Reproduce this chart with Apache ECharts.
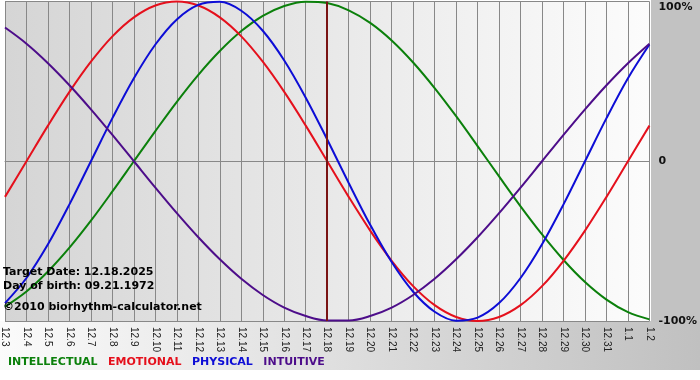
<!DOCTYPE html>
<html>
<head>
<meta charset="utf-8">
<script src="https://cdn.jsdelivr.net/npm/echarts@6/dist/echarts.min.js"></script>
<style>html,body{margin:0;padding:0;background:#fff;}#c{width:700px;height:380px;}</style>
</head>
<body>
<div id="c"></div>
<script>
var categories = ['12.3','12.4','12.5','12.6','12.7','12.8','12.9','12.10','12.11','12.12','12.13','12.14','12.15','12.16','12.17','12.18','12.19','12.20','12.21','12.22','12.23','12.24','12.25','12.26','12.27','12.28','12.29','12.30','12.31','1.1','1.2'];
var intellectual = [-91.0,-81.5,-69.0,-54.1,-37.2,-18.9,0,18.9,37.2,54.1,69.0,81.5,91.0,97.2,99.9,99.0,94.5,86.6,75.6,61.8,45.8,28.2,9.5,-9.5,-28.2,-45.8,-61.8,-75.6,-86.6,-94.5,-99.0];
var emotional = [-22.3,0,22.3,43.4,62.3,78.2,90.1,97.5,100,97.5,90.1,78.2,62.3,43.4,22.3,0,-22.3,-43.4,-62.3,-78.2,-90.1,-97.5,-100,-97.5,-90.1,-78.2,-62.3,-43.4,-22.3,0,22.3];
var physical = [-88.8,-73.1,-52.0,-27.0,0,27.0,52.0,73.1,88.8,97.9,99.8,94.2,81.7,63.1,39.8,13.6,-13.6,-39.8,-63.1,-81.7,-94.2,-99.8,-97.9,-88.8,-73.1,-52.0,-27.0,0,27.0,52.0,73.1];
var intuitive = [83.7,73.6,61.4,47.6,32.5,16.5,0,-16.5,-32.5,-47.6,-61.4,-73.6,-83.7,-91.6,-96.9,-99.7,-99.7,-96.9,-91.6,-83.7,-73.6,-61.4,-47.6,-32.5,-16.5,0,16.5,32.5,47.6,61.4,73.6];
var targetDay = '12.18';
var infoLines = ['Target Date: 12.18.2025', 'Day of birth: 09.21.1972', '\u00a92010 biorhythm-calculator.net'];
var yTicks = {'100':'100%','0':'0','-100':'-100%'};

var colors = {INTELLECTUAL:'#0b800b', EMOTIONAL:'#e5101c', PHYSICAL:'#0d0dd6', INTUITIVE:'#4d0d8a'};
var FONT = '"DejaVu Sans", Verdana, sans-serif';

function mkSeries(name, data, extra) {
  var s = {
    name: name, type: 'line', data: data, smooth: 0.35, symbol: 'none',
    lineStyle: {color: colors[name], width: 2}, itemStyle: {color: colors[name]},
    silent: true, clip: false
  };
  if (extra) for (var k in extra) s[k] = extra[k];
  return s;
}

var chart = echarts.init(document.getElementById('c'), null, {renderer: 'canvas'});
chart.setOption({
  animation: false,
  backgroundColor: '#ffffff',
  graphic: [
    {type:'rect', z:-10, shape:{x:0, y:321, width:700, height:49},
     style:{fill: new echarts.graphic.LinearGradient(0,0,1,0,[{offset:0,color:'#fbfbfb'},{offset:1,color:'#c0c0c0'}])}},
    {type:'rect', z:-10, shape:{x:651, y:0, width:49, height:322}, style:{fill:'#c2c2c2'}},
    {type:'text', left:3, top:267, z:100, style:{text: infoLines[0], font:'bold 11px ' + FONT, fill:'#000'}},
    {type:'text', left:3, top:281, z:100, style:{text: infoLines[1], font:'bold 11px ' + FONT, fill:'#000'}},
    {type:'text', left:3, top:302, z:100, style:{text: infoLines[2], font:'bold 11px ' + FONT, fill:'#000'}}
  ],
  legend: {
    left: 3, top: 355, padding: 0, icon: 'none', itemWidth: 0, itemHeight: 14, itemGap: 5.5,
    selectedMode: false,
    textStyle: {fontFamily: FONT, fontWeight: 'bold', fontSize: 11},
    data: [
      {name:'INTELLECTUAL', textStyle:{color: colors.INTELLECTUAL}},
      {name:'EMOTIONAL', textStyle:{color: colors.EMOTIONAL}},
      {name:'PHYSICAL', textStyle:{color: colors.PHYSICAL}},
      {name:'INTUITIVE', textStyle:{color: colors.INTUITIVE}}
    ]
  },
  grid: {
    left: 0.5, right: 50, top: 1.5, bottom: 59, containLabel: false, show: true,
    borderWidth: 0,
    backgroundColor: new echarts.graphic.LinearGradient(0,0,1,0,[{offset:0,color:'#d5d5d5'},{offset:1,color:'#fcfcfc'}])
  },
  xAxis: {
    type: 'category', data: categories, boundaryGap: false,
    axisLine: {show: true, lineStyle: {color: '#888', width: 1}},
    axisTick: {show: true, interval: 0, length: 4, lineStyle: {color: '#888'}},
    splitLine: {show: true, interval: 0, lineStyle: {color: '#888', width: 1}},
    axisLabel: {interval: 0, rotate: -90, margin: 6, fontSize: 10, fontFamily: '"Liberation Sans", Arial, sans-serif', color: '#222', hideOverlap: false}
  },
  yAxis: {
    type: 'value', position: 'right', min: -100, max: 100, interval: 100,
    axisLine: {show: false}, axisTick: {show: false},
    splitLine: {show: true, lineStyle: {color: '#888', width: 1}},
    axisLabel: {
      margin: 9, fontFamily: FONT, fontWeight: 'bold', fontSize: 11, color: '#111',
      formatter: function (v) { var t = yTicks[String(v)]; return v === 100 ? '{top|' + t + '}' : t; },
      rich: {top: {fontFamily: FONT, fontWeight: 'bold', fontSize: 11, color: '#111', padding: [12,0,0,0]}}
    }
  },
  series: [
    mkSeries('INTELLECTUAL', intellectual, {
      markLine: {
        silent: true, symbol: ['none','none'], label: {show: false},
        lineStyle: {color: '#7a1414', width: 2, type: 'solid'},
        data: [{xAxis: targetDay}]
      }
    }),
    mkSeries('EMOTIONAL', emotional),
    mkSeries('PHYSICAL', physical),
    mkSeries('INTUITIVE', intuitive)
  ]
});
</script>
</body>
</html>
